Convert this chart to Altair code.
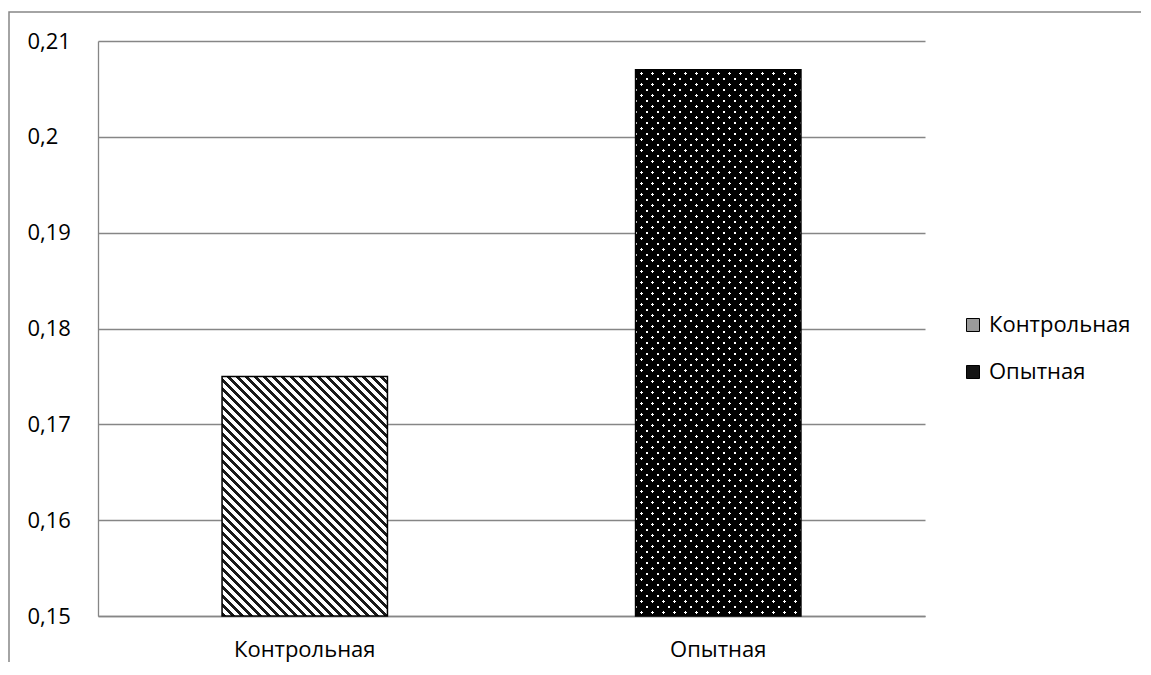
import math
import altair as alt
import pandas as pd

# ---- data ----
categories = ["Контрольная", "Опытная"]
values = [0.175, 0.207]
y_ticks = [0.15, 0.16, 0.17, 0.18, 0.19, 0.20, 0.21]

df = pd.DataFrame({"group": categories, "value": values})

# ---- layout ----
W, H = 827, 575
Y_MIN, Y_MAX = 0.15, 0.21
FONT = "Open Sans"
FS = 22
GRID = "#868686"

step = W / (len(categories) - 0.6 + 2 * 0.3)
band_w = step * 0.4


def bar_h(v):
    return (v - Y_MIN) / (Y_MAX - Y_MIN) * H


def stripes(w, h, period, dark_frac, direction, dark, light):
    s = (w + h) / (w * w + h * h)
    L = (w + h) / math.sqrt(2)
    stops = []
    k = 0
    while k * period < L:
        t0 = k * period / L
        t1 = min((k + dark_frac) * period / L, 1.0)
        t2 = min((k + 1) * period / L, 1.0)
        stops += [
            alt.GradientStop(offset=t0, color=dark),
            alt.GradientStop(offset=t1, color=dark),
            alt.GradientStop(offset=t1, color=light),
            alt.GradientStop(offset=t2, color=light),
        ]
        k += 1
    if direction == "down":
        x1, y1, x2, y2 = 0, 1, s * w, 1 - s * h
    else:
        x1, y1, x2, y2 = 0, 0, s * w, s * h
    return alt.Gradient(gradient="linear", stops=stops, x1=x1, y1=y1, x2=x2, y2=y2)


h_ctrl = bar_h(values[0])
h_exp = bar_h(values[1])
CLEAR = "rgba(255,255,255,0)"

hatch = stripes(band_w, h_ctrl, 9 / math.sqrt(2), 0.47, "down", "#1a1a1a", "#ffffff")
dots_a = stripes(band_w, h_exp, 11 / math.sqrt(2), 0.75, "down", "#000000", CLEAR)
dots_b = stripes(band_w, h_exp, 11 / math.sqrt(2), 0.75, "up", "#000000", CLEAR)

x_enc = alt.X(
    "group:N",
    sort=categories,
    scale=alt.Scale(domain=categories, paddingInner=0.6, paddingOuter=0.3),
    axis=alt.Axis(
        title=None, labelAngle=0, ticks=False, labelPadding=23,
        labelBaseline="top", labelFont=FONT, labelFontSize=FS,
        labelColor="#000000", domainColor=GRID, domainWidth=1.3,
    ),
)
y_enc = alt.Y(
    "value:Q",
    scale=alt.Scale(domain=[Y_MIN, Y_MAX], zero=False, nice=False),
    axis=alt.Axis(
        title=None, values=y_ticks, ticks=False, tickSize=0,
        labelAlign="left", labelPadding=71, labelBaseline="middle",
        labelFont=FONT, labelFontSize=FS, labelColor="#000000",
        labelExpr="replace(format(datum.value, '.2~f'), '.', ',')",
        grid=True, gridColor=GRID, gridWidth=1.3,
        domainColor=GRID, domainWidth=1.3,
    ),
)

base = alt.Chart(df)

frame = base.mark_rect(fill="white", fillOpacity=0, stroke=GRID, strokeWidth=1.5).encode(
    x=alt.value(-89), x2=alt.value(1300), y=alt.value(-29), y2=alt.value(800)
).transform_filter(alt.datum.group == categories[0])

legend_bars = base.mark_bar().encode(
    x=x_enc, y=y_enc, y2=alt.datum(Y_MIN),
    color=alt.Color(
        "group:N",
        scale=alt.Scale(domain=categories, range=["#9a9a9a", "#141414"]),
        legend=alt.Legend(
            title=None, orient="none", legendX=864, legendY=273,
            symbolType="square", symbolSize=169, symbolStrokeColor="#000000",
            symbolStrokeWidth=1, labelFont=FONT, labelFontSize=FS,
            labelColor="#000000", labelOffset=5, rowPadding=25, padding=0,
        ),
    ),
)

white = base.mark_bar(fill="#ffffff").encode(x=x_enc, y=y_enc, y2=alt.datum(Y_MIN))

ctrl = base.mark_bar(fill=hatch).encode(x=x_enc, y=y_enc, y2=alt.datum(Y_MIN)).transform_filter(
    alt.datum.group == categories[0]
)
exp_a = base.mark_bar(fill=dots_a).encode(x=x_enc, y=y_enc, y2=alt.datum(Y_MIN)).transform_filter(
    alt.datum.group == categories[1]
)
exp_b = base.mark_bar(fill=dots_b).encode(x=x_enc, y=y_enc, y2=alt.datum(Y_MIN)).transform_filter(
    alt.datum.group == categories[1]
)
outline = base.mark_bar(fill="white", fillOpacity=0, stroke="#000000", strokeWidth=1.5).encode(
    x=x_enc, y=y_enc, y2=alt.datum(Y_MIN)
)

chart = (
    alt.layer(frame, legend_bars, white, ctrl, exp_a, exp_b, outline)
    .properties(
        width=W, height=H,
        autosize=alt.AutoSizeParams(type="none"),
        padding={"left": 90, "top": 33, "right": 216, "bottom": 46},
        background="white",
    )
    .configure_view(stroke=None)
)

chart.save("out.html", embed_options={"renderer": "svg", "actions": False})
